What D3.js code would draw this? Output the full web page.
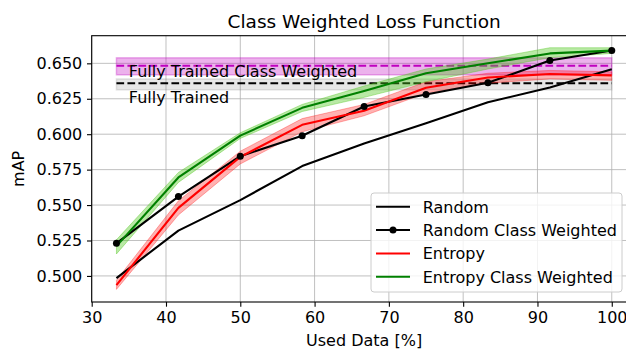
<!DOCTYPE html>
<html>
<head>
<meta charset="utf-8">
<script src="https://cdn.jsdelivr.net/npm/d3@7"></script>
<style>
  body { margin: 0; background: #fff; }
  svg { display: block; font-family: "DejaVu Sans", sans-serif; }
  .grid line { stroke: #b0b0b0; stroke-width: 0.8; }
  .axis text { font-size: 16px; fill: #000; font-family: "DejaVu Sans", sans-serif; }
  .axis path, .axis line { stroke: #000; stroke-width: 1.1; }
</style>
</head>
<body>
<div id="chart"></div>
<script>
const usedData = [33.33, 41.67, 50, 58.33, 66.67, 75, 83.33, 91.67, 100];

const randomMap = [0.4985, 0.532, 0.5535, 0.5775, 0.5935, 0.6077, 0.6225, 0.633, 0.6458];
const randomWeightedMap = [0.523, 0.556, 0.5845, 0.5989, 0.6195, 0.628, 0.6363, 0.652, 0.659];

const entropyMap = [0.4935, 0.548, 0.584, 0.6066, 0.6166, 0.6328, 0.640, 0.6425, 0.6415];
const entropyLow = [0.4905, 0.543, 0.579, 0.6017, 0.613, 0.629, 0.636, 0.639, 0.638];
const entropyHigh = [0.497, 0.553, 0.588, 0.611, 0.621, 0.637, 0.643, 0.645, 0.644];

const entropyWeightedMap = [0.521, 0.5695, 0.599, 0.6186, 0.6305, 0.643, 0.650, 0.657, 0.659];
const entropyWeightedLow = [0.5155, 0.566, 0.597, 0.616, 0.626, 0.637, 0.646, 0.654, 0.657];
const entropyWeightedHigh = [0.5255, 0.573, 0.601, 0.621, 0.634, 0.646, 0.653, 0.661, 0.661];

// fully trained references: [mean, low, high]
const fullyTrained = [0.6359, 0.6313, 0.639];
const fullyTrainedWeighted = [0.6483, 0.6419, 0.6539];

const xTicks = [30, 40, 50, 60, 70, 80, 90, 100];
const yTicks = [0.500, 0.525, 0.550, 0.575, 0.600, 0.625, 0.650];

const legendItems = [
  { label: "Random", color: "#000", marker: false },
  { label: "Random Class Weighted", color: "#000", marker: true },
  { label: "Entropy", color: "#ff0000", marker: false },
  { label: "Entropy Class Weighted", color: "#008000", marker: false }
];

const width = 626, height = 350;
const plot = { left: 91.7, top: 35.7, right: 636.5, bottom: 302 };

const x = d3.scaleLinear().domain([30, 103.33]).range([plot.left, plot.right]);
const y = d3.scaleLinear().domain([0.4816, 0.6695]).range([plot.bottom, plot.top]);

const svg = d3.select("#chart").append("svg")
  .attr("width", width)
  .attr("height", height);

svg.append("clipPath").attr("id", "clip")
  .append("rect")
  .attr("x", plot.left).attr("y", plot.top)
  .attr("width", plot.right - plot.left).attr("height", plot.bottom - plot.top);

// grid
const grid = svg.append("g").attr("class", "grid");
grid.selectAll(".gx").data(xTicks).join("line")
  .attr("x1", (d) => x(d)).attr("x2", (d) => x(d))
  .attr("y1", plot.top).attr("y2", plot.bottom);
grid.selectAll(".gy").data(yTicks).join("line")
  .attr("x1", plot.left).attr("x2", plot.right)
  .attr("y1", (d) => y(d)).attr("y2", (d) => y(d));

const body = svg.append("g").attr("clip-path", "url(#clip)");

// horizontal reference bands
function refBand(ref, fill, opacity, dashColor) {
  const x0 = usedData[0], x1 = usedData[usedData.length - 1];
  body.append("rect")
    .attr("x", x(x0)).attr("width", x(x1) - x(x0))
    .attr("y", y(ref[2])).attr("height", y(ref[1]) - y(ref[2]))
    .attr("fill", fill).attr("fill-opacity", opacity)
    .attr("stroke", fill).attr("stroke-opacity", opacity).attr("stroke-width", 1.5);
  body.append("line")
    .attr("x1", x(x0)).attr("x2", x(x1))
    .attr("y1", y(ref[0])).attr("y2", y(ref[0]))
    .attr("stroke", dashColor).attr("stroke-width", 2.1)
    .attr("stroke-dasharray", "7.7,3.3");
}
refBand(fullyTrainedWeighted, "#bf00bf", 0.3, "#bf00bf");
refBand(fullyTrained, "#808080", 0.2, "#000");

// uncertainty bands
const area = (lo, hi) => d3.area()
  .x((d, i) => x(usedData[i]))
  .y0((d, i) => y(lo[i]))
  .y1((d, i) => y(hi[i]))(usedData);

body.append("path").attr("d", area(entropyLow, entropyHigh))
  .attr("fill", "#ff0000").attr("fill-opacity", 0.3)
  .attr("stroke", "#ff0000").attr("stroke-opacity", 0.3);
body.append("path").attr("d", area(entropyWeightedLow, entropyWeightedHigh))
  .attr("fill", "#4fc81e").attr("fill-opacity", 0.4)
  .attr("stroke", "#4fc81e").attr("stroke-opacity", 0.4);

// labels for the reference lines
svg.append("text").attr("x", x(35)).attr("y", y(0.6405))
  .attr("font-size", "16px").attr("fill", "#000")
  .text("Fully Trained Class Weighted");
svg.append("text").attr("x", x(35)).attr("y", y(0.622))
  .attr("font-size", "16px").attr("fill", "#000")
  .text("Fully Trained");

// series lines
const line = d3.line().x((d, i) => x(usedData[i])).y((d) => y(d));
function drawLine(values, color) {
  body.append("path").attr("d", line(values))
    .attr("fill", "none").attr("stroke", color)
    .attr("stroke-width", 2.1).attr("stroke-linejoin", "round");
}
drawLine(randomMap, "#000");
drawLine(randomWeightedMap, "#000");
drawLine(entropyMap, "#ff0000");
drawLine(entropyWeightedMap, "#008000");

body.selectAll(".dot").data(randomWeightedMap).join("circle")
  .attr("cx", (d, i) => x(usedData[i])).attr("cy", (d) => y(d))
  .attr("r", 3.5).attr("fill", "#000");

// axes
svg.append("g").attr("class", "axis")
  .attr("transform", `translate(0,${plot.bottom})`)
  .call(d3.axisBottom(x).tickValues(xTicks).tickSize(4.7).tickPadding(4.7).tickFormat(d3.format("d")))
  .call((g) => g.select(".domain").remove());
svg.append("g").attr("class", "axis")
  .attr("transform", `translate(${plot.left},0)`)
  .call(d3.axisLeft(y).tickValues(yTicks).tickSize(4.7).tickPadding(4.7).tickFormat(d3.format(".3f")))
  .call((g) => g.select(".domain").remove());

// spines
svg.append("rect")
  .attr("x", plot.left).attr("y", plot.top)
  .attr("width", plot.right - plot.left).attr("height", plot.bottom - plot.top)
  .attr("fill", "none").attr("stroke", "#000").attr("stroke-width", 1.1);

// titles
svg.append("text").attr("x", (plot.left + plot.right) / 2).attr("y", 27.5)
  .attr("text-anchor", "middle").attr("font-size", "18.5px")
  .text("Class Weighted Loss Function");
svg.append("text").attr("x", (plot.left + plot.right) / 2).attr("y", 346)
  .attr("text-anchor", "middle").attr("font-size", "16px")
  .text("Used Data [%]");
svg.append("text")
  .attr("transform", `translate(24,${(plot.top + plot.bottom) / 2}) rotate(-90)`)
  .attr("text-anchor", "middle").attr("font-size", "16px")
  .text("mAP");

// legend
const legend = svg.append("g").attr("transform", "translate(371,193)");
legend.append("rect")
  .attr("width", 251).attr("height", 99).attr("rx", 3)
  .attr("fill", "#fff").attr("fill-opacity", 0.8)
  .attr("stroke", "#cccccc").attr("stroke-width", 1);
const rowY = [13.7, 37, 60.5, 83.7];
legendItems.forEach((item, i) => {
  const cy = rowY[i];
  legend.append("line")
    .attr("x1", 5).attr("x2", 39).attr("y1", cy).attr("y2", cy)
    .attr("stroke", item.color).attr("stroke-width", 2.1);
  if (item.marker) {
    legend.append("circle").attr("cx", 22).attr("cy", cy).attr("r", 3.5).attr("fill", item.color);
  }
  legend.append("text").attr("x", 51.7).attr("y", cy + 5.8)
    .attr("font-size", "16px").text(item.label);
});
</script>
</body>
</html>
